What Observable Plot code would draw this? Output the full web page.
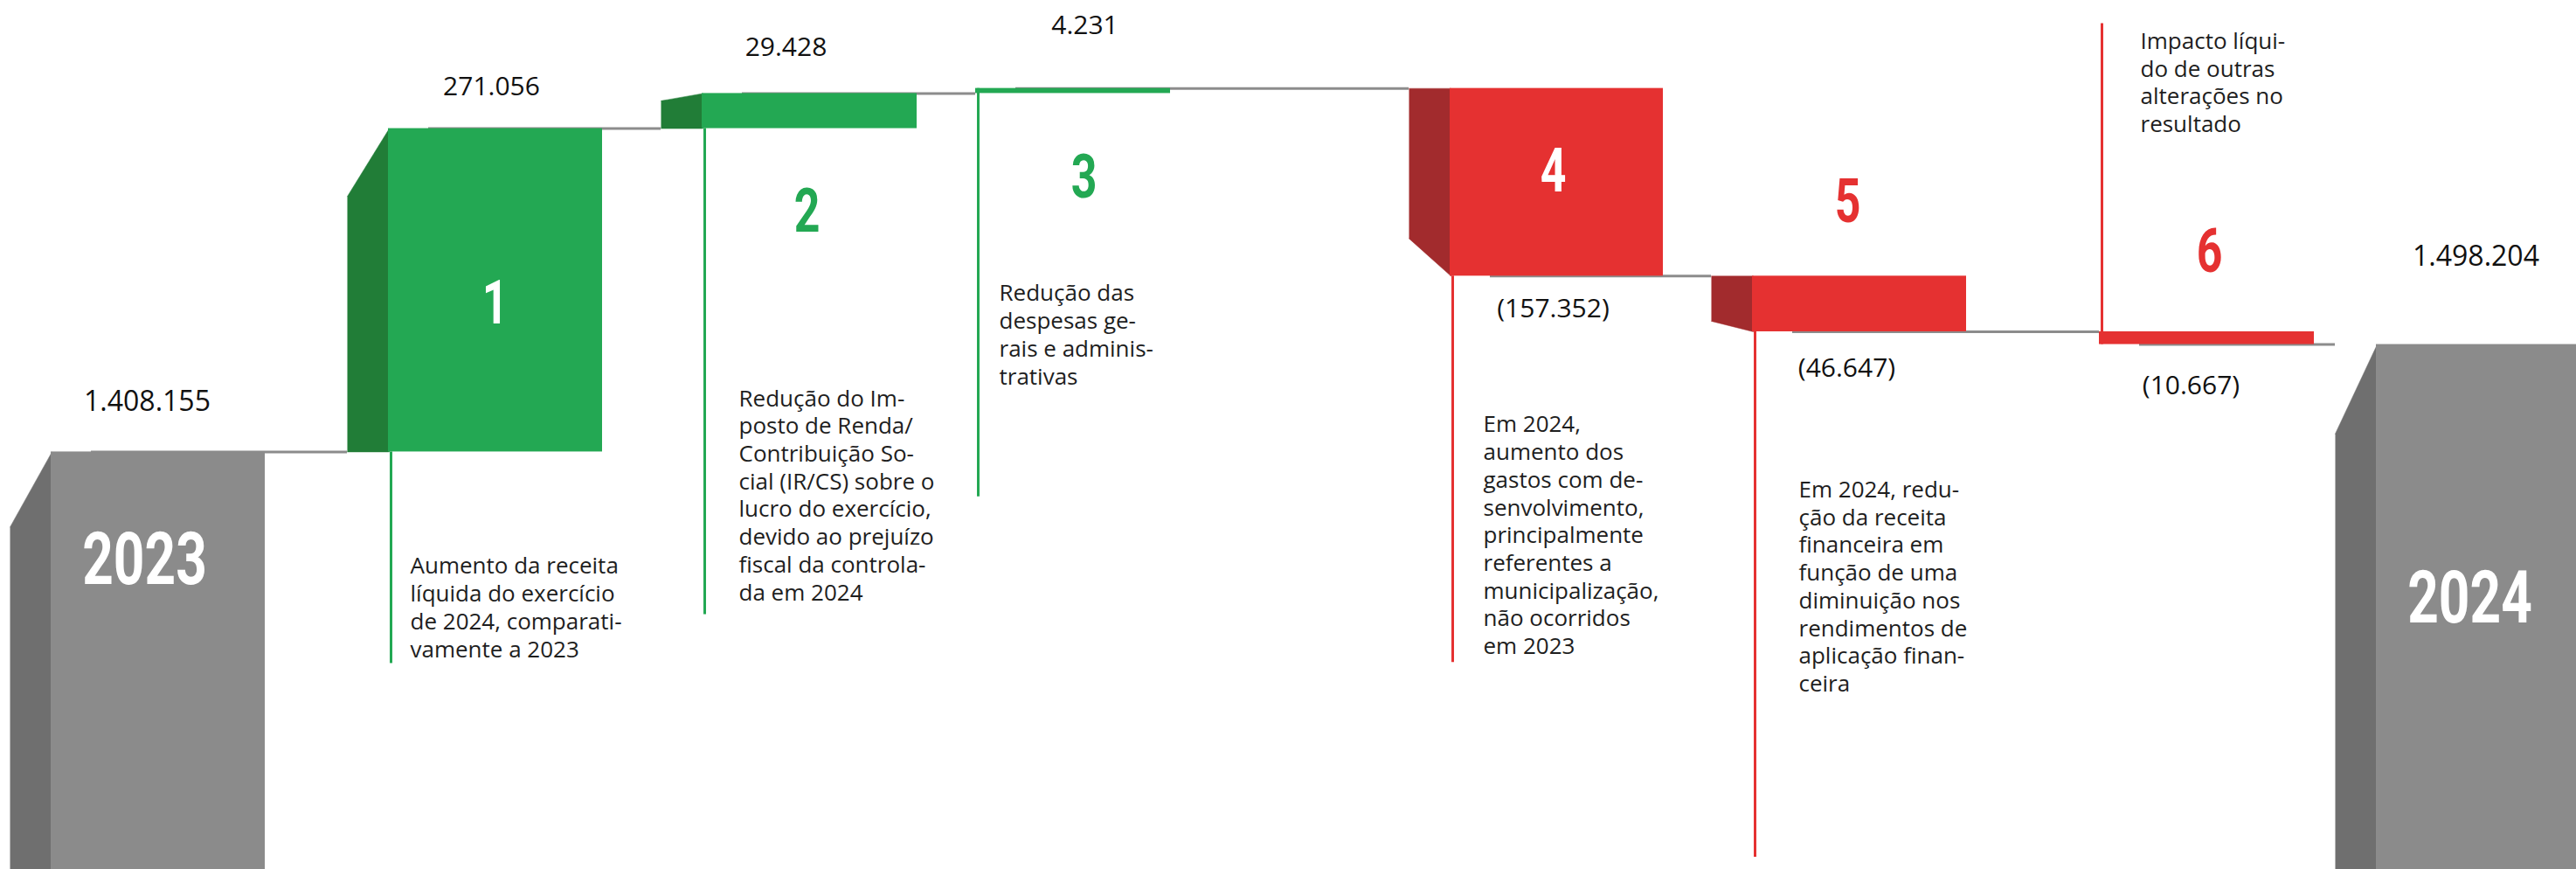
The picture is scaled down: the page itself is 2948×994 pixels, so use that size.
<!DOCTYPE html>
<html><head><meta charset="utf-8">
<script src="https://cdn.jsdelivr.net/npm/d3@7"></script>
<script src="https://cdn.jsdelivr.net/npm/@observablehq/plot@0.6"></script>
<style>
html,body{margin:0;padding:0;background:#fff;}
#chart svg{display:block;}
</style></head><body><div id="chart"></div>
<script>
// ---------- DATA ----------
const steps = ["2023", "1", "2", "3", "4", "5", "6", "2024"];
const kinds = ["total", "up", "up", "up", "down", "down", "down", "total"];
const values = [1408155, 271056, 29428, 4231, -157352, -46647, -10667, 1498204];
const valueLabels = ["1.408.155", "271.056", "29.428", "4.231", "(157.352)", "(46.647)", "(10.667)", "1.498.204"];
const bigLabels = ["2023", "1", "2", "3", "4", "5", "6", "2024"];
const notes = [
  null,
  "Aumento da receita\nlíquida do exercício\nde 2024, comparati-\nvamente a 2023",
  "Redução do Im-\nposto de Renda/\nContribuição So-\ncial (IR/CS) sobre o\nlucro do exercício,\ndevido ao prejuízo\nfiscal da controla-\nda em 2024",
  "Redução das\ndespesas ge-\nrais e adminis-\ntrativas",
  "Em 2024,\naumento dos\ngastos com de-\nsenvolvimento,\nprincipalmente\nreferentes a\nmunicipalização,\nnão ocorridos\nem 2023",
  "Em 2024, redu-\nção da receita\nfinanceira em\nfunção de uma\ndiminuição nos\nrendimentos de\naplicação finan-\nceira",
  "Impacto líqui-\ndo de outras\nalterações no\nresultado",
  null
];

// ---------- LAYOUT (positions, sizes, styles) ----------
const W = 2948, H = 994;
const yDomain = [1058160, 1786630];
const slotLeft = [58, 444, 803, 1116, 1659, 2005, 2402, 2719];
const slotWidth = [245, 245, 246, 223, 244, 245, 246, 245];
const sideW = 47;
const sideShown = [true, true, true, false, true, true, false, true];
const sideCut = [0.18, 0.21, 0.21, 0, 0.2, 0.19, 0, 0.17];
const palette = {total: ["#8b8b8b", "#6f6f6f"], up: ["#23a853", "#217d37"], down: ["#e53131", "#a22b2d"]};
const labelDy = [-57, -48, -53, -72, 38, 42, 47, -100];
const labelDx = [-12, -4, -26, 3, -4, -14, -17, -8];
const bigPos = [["hi", 124, -15], ["mid", 16, 0], ["lo", 96, -2], ["lo", 97, 2], ["mid", -12, -4], ["hi", -84, -13], ["hi", -91, 4], ["hi", 291, -15]];
const noteDx = [0, 25, 42, 27, 38, 53, 47, 0];
const notePos = [null, ["lo", 117], ["lo", 295], ["lo", 215], ["lo", 156], ["lo", 167], ["hi", -346], null];
const noteLine = [null, ["lo", 242], ["lo", 556], ["hi", 467], ["lo", 442], ["lo", 601], ["lo", -367], null];
const textFont = "'Open Sans', 'Noto Sans', sans-serif";
const bigFont = "Roboto, 'Liberation Sans', sans-serif";
const bigSqueeze = 0.74;

// ---------- BUILD ----------
const yScale = Plot.scale({y: {domain: yDomain, range: [H, 0]}});
const py = v => yScale.apply(v);
const inv = p => yScale.invert(p);

let run = 0;
const rows = steps.map((key, i) => {
  const k = kinds[i], v = values[i];
  let lo, hi;
  if (k === "total") { lo = yDomain[0]; hi = v; run = v; }
  else { const prev = run; run += v; lo = Math.min(prev, run); hi = Math.max(prev, run); }
  return {key, i, kind: k, lo, hi, level: run, left: slotLeft[i], w: slotWidth[i]};
});
const anchorOf = (r, a) => a === "hi" ? r.hi : a === "lo" ? r.lo : (r.kind === "total" ? r.hi : (r.hi + r.lo) / 2);

const sidePts = [];
rows.forEach(r => {
  if (!sideShown[r.i]) return;
  const c = sideCut[r.i] * (r.hi - r.lo);
  const topL = r.kind === "down" ? r.hi : r.hi - c;
  const botL = r.kind === "down" ? r.lo + c : r.lo;
  sidePts.push(
    {key: r.key, kind: r.kind, x: r.left - sideW, y: topL},
    {key: r.key, kind: r.kind, x: r.left + 1, y: r.hi},
    {key: r.key, kind: r.kind, x: r.left + 1, y: r.lo},
    {key: r.key, kind: r.kind, x: r.left - sideW, y: botL}
  );
});

const connectors = rows.slice(0, -1).map((r, i) => ({
  level: r.level,
  x1: r.left + 46,
  x2: rows[i + 1].left - (sideShown[i + 1] ? sideW : 0)
}));

const noteRows = rows.filter(r => notes[r.i]);

const sideMarks = ["total", "up", "down"].map(k =>
  Plot.line(sidePts.filter(p => p.kind === k), {x: "x", y: "y", z: "key", fill: palette[k][1], stroke: palette[k][1], strokeWidth: 0.5})
);

const chart = Plot.plot({
  width: W, height: H,
  margin: 0,
  style: {background: "#fff"},
  x: {type: "linear", domain: [0, W], axis: null},
  y: {domain: yDomain, axis: null},
  marks: [
    Plot.ruleY(connectors, {y: "level", x1: "x1", x2: "x2", stroke: "#8c8c8c", strokeWidth: 3}),
    Plot.ruleX(noteRows, {
      x: r => r.left + 3,
      y1: r => anchorOf(r, noteLine[r.i][0]),
      y2: r => inv(py(anchorOf(r, noteLine[r.i][0])) + noteLine[r.i][1]),
      stroke: r => palette[r.kind][0], strokeWidth: 3
    }),
    ...sideMarks,
    Plot.rect(rows, {x1: r => r.left, x2: r => r.left + r.w, y1: "lo", y2: "hi", fill: r => palette[r.kind][0]}),
    Plot.text(rows, {
      x: r => r.left + 122 + labelDx[r.i],
      y: r => inv(py(r.kind === "down" ? r.lo : r.hi) + labelDy[r.i]),
      text: r => valueLabels[r.i],
      fontSize: r => r.kind === "total" ? 32 : 30, fontFamily: textFont, fill: "#111"
    }),
    Plot.text(rows, {
      x: r => r.left + 122 + bigPos[r.i][2],
      y: r => inv(py(anchorOf(r, bigPos[r.i][0])) + bigPos[r.i][1]),
      text: r => bigLabels[r.i],
      fontSize: r => r.kind === "total" ? 84 : 70,
      fontWeight: "bold", fontFamily: bigFont,
      fill: r => (r.kind === "total" || bigPos[r.i][0] === "mid") ? "#fff" : palette[r.kind][0]
    }),
    Plot.text(noteRows, {
      x: r => r.left + noteDx[r.i],
      y: r => inv(py(anchorOf(r, notePos[r.i][0])) + notePos[r.i][1]),
      text: r => notes[r.i],
      textAnchor: "start", lineAnchor: "top", lineHeight: 1.22,
      fontSize: 26, fontFamily: textFont, fill: "#1e1e1e"
    })
  ]
});
// condense the big step numbers (the reference uses a narrow display face)
const bigSet = new Set(bigLabels);
chart.querySelectorAll("text").forEach(t => {
  if (!bigSet.has(t.textContent.trim()) || t.querySelector("tspan")) return;
  const fw = (t.closest("g") && t.closest("g").getAttribute("font-weight")) || t.getAttribute("font-weight");
  if (fw !== "bold") return;
  let tr = t.getAttribute("transform");
  if (!tr) {
    const x = +(t.getAttribute("x") || 0), y = +(t.getAttribute("y") || 0);
    t.removeAttribute("x"); t.removeAttribute("y");
    tr = `translate(${x},${y})`;
  }
  t.setAttribute("transform", tr + ` scale(${bigSqueeze},1)`);
});
document.getElementById("chart").appendChild(chart);
</script></body></html>
